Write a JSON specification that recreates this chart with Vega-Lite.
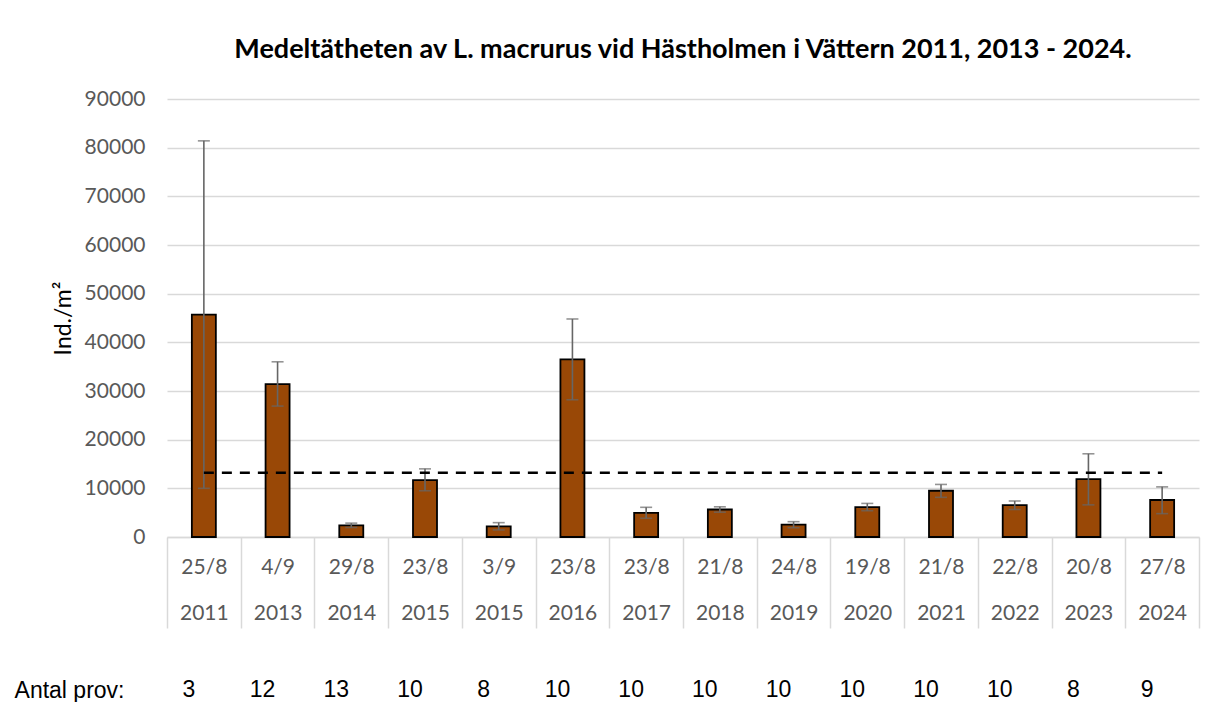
{
  "$schema": "https://vega.github.io/schema/vega-lite/v6.json",
  "padding": {"left": 14, "top": 36, "right": 17, "bottom": 0},
  "background": "white",
  "config": {"view": {"stroke": null}, "font": "Lato"},
  "datasets": {
    "d": [
      {"key": "25/8 2011", "mean": 45700, "lo": 10000, "hi": 81400, "avg": 13200, "n": 3},
      {"key": "4/9 2013", "mean": 31400, "lo": 26900, "hi": 36000, "avg": 13200, "n": 12},
      {"key": "29/8 2014", "mean": 2400, "lo": 1950, "hi": 2850, "avg": 13200, "n": 13},
      {"key": "23/8 2015", "mean": 11700, "lo": 9500, "hi": 14000, "avg": 13200, "n": 10},
      {"key": "3/9 2015", "mean": 2200, "lo": 1450, "hi": 2950, "avg": 13200, "n": 8},
      {"key": "23/8 2016", "mean": 36500, "lo": 28200, "hi": 44800, "avg": 13200, "n": 10},
      {"key": "23/8 2017", "mean": 4950, "lo": 3850, "hi": 6100, "avg": 13200, "n": 10},
      {"key": "21/8 2018", "mean": 5650, "lo": 5100, "hi": 6200, "avg": 13200, "n": 10},
      {"key": "24/8 2019", "mean": 2550, "lo": 1900, "hi": 3150, "avg": 13200, "n": 10},
      {"key": "19/8 2020", "mean": 6150, "lo": 5400, "hi": 6900, "avg": 13200, "n": 10},
      {"key": "21/8 2021", "mean": 9500, "lo": 8150, "hi": 10800, "avg": 13200, "n": 10},
      {"key": "22/8 2022", "mean": 6550, "lo": 5650, "hi": 7400, "avg": 13200, "n": 10},
      {"key": "20/8 2023", "mean": 11900, "lo": 6600, "hi": 17100, "avg": 13200, "n": 8},
      {"key": "27/8 2024", "mean": 7600, "lo": 4800, "hi": 10300, "avg": 13200, "n": 9}
    ]
  },
  "spacing": 50,
  "vconcat": [
    {
      "width": 1032,
      "height": 438,
      "title": {
        "text": "Medeltätheten av L. macrurus vid Hästholmen i Vättern 2011, 2013 - 2024.",
        "font": "Lato",
        "fontSize": 27,
        "fontWeight": "bold",
        "color": "black",
        "anchor": "middle",
        "baseline": "alphabetic",
        "offset": 3
      },
      "data": {"name": "d"},
      "encoding": {
        "x": {
          "field": "key",
          "type": "nominal",
          "sort": null,
          "scale": {"paddingInner": 0, "paddingOuter": 0},
          "axis": {
            "title": null,
            "labelExpr": "split(datum.label, ' ')",
            "labelAngle": 0,
            "labelFont": "Lato",
            "labelFontSize": 21,
            "labelColor": "#595959",
            "labelLineHeight": 46,
            "labelBaseline": "top",
            "labelPadding": -72,
            "tickBand": "extent",
            "tickSize": 91,
            "tickColor": "#d9d9d9",
            "tickWidth": 1.5,
            "domainColor": "#d9d9d9",
            "domainWidth": 1.5,
            "grid": false,
            "labelOverlap": false,
            "labelBound": false,
            "labelFlush": false
          }
        }
      },
      "layer": [
        {
          "mark": {"type": "bar", "size": 24, "fill": "#994806", "stroke": "black", "strokeWidth": 1.8},
          "encoding": {
            "y": {
              "field": "mean",
              "type": "quantitative",
              "scale": {"domain": [0, 90000], "nice": false},
              "axis": {
                "title": "Ind./m²",
                "titleFont": "Lato",
                "titleFontSize": 23,
                "titleFontWeight": "normal",
                "titleColor": "black",
                "titlePadding": 9,
                "labelFont": "Lato",
                "labelFontSize": 21,
                "labelColor": "#595959",
                "labelPadding": 22,
                "ticks": false,
                "domain": false,
                "grid": true,
                "gridColor": "#d9d9d9",
                "gridWidth": 1.5,
                "values": [0, 10000, 20000, 30000, 40000, 50000, 60000, 70000, 80000, 90000],
                "format": "d"
              }
            }
          }
        },
        {
          "mark": {"type": "rule", "color": "#666666", "strokeWidth": 1.6},
          "encoding": {
            "y": {"field": "lo", "type": "quantitative"},
            "y2": {"field": "hi"}
          }
        },
        {
          "mark": {"type": "tick", "color": "#666666", "size": 12, "thickness": 1.6},
          "encoding": {"y": {"field": "hi", "type": "quantitative"}}
        },
        {
          "mark": {"type": "tick", "color": "#666666", "size": 12, "thickness": 1.6},
          "encoding": {"y": {"field": "lo", "type": "quantitative"}}
        },
        {
          "mark": {"type": "line", "color": "black", "strokeWidth": 2.5, "strokeDash": [10, 8]},
          "encoding": {"y": {"field": "avg", "type": "quantitative"}}
        }
      ]
    },
    {
      "width": 1032,
      "height": 18,
      "data": {"name": "d"},
      "mark": {"type": "text", "font": "Liberation Sans", "fontSize": 23, "color": "black", "dx": -15},
      "encoding": {
        "x": {
          "field": "key",
          "type": "nominal",
          "sort": null,
          "scale": {"paddingInner": 0, "paddingOuter": 0},
          "axis": null
        },
        "y": {
          "datum": "Antal prov:",
          "type": "nominal",
          "axis": {
            "title": null,
            "domain": false,
            "ticks": false,
            "labelFont": "Liberation Sans",
            "labelFontSize": 23,
            "labelColor": "black",
            "labelPadding": 43
          }
        },
        "text": {"field": "n", "type": "quantitative"}
      }
    }
  ]
}
